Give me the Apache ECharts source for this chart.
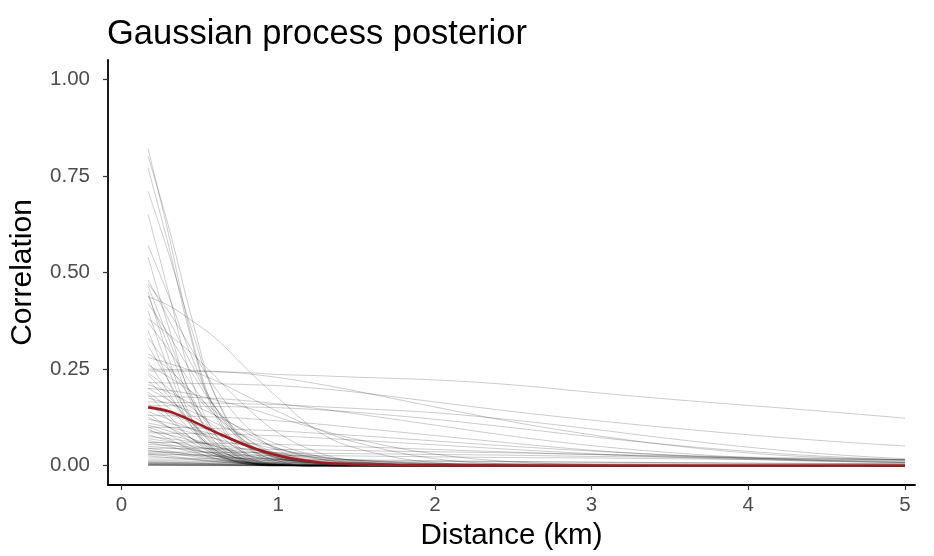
<!DOCTYPE html>
<html><head><meta charset="utf-8">
<script src="https://cdn.jsdelivr.net/npm/echarts@6/dist/echarts.min.js"></script>
<style>html,body{margin:0;padding:0;background:#fff}#c{width:934px;height:556px}</style>
</head><body><div id="c"></div>
<script>
// Distance grid (km) at which each posterior draw is read
const distances = [0.17, 0.3, 0.45, 0.6, 0.8, 1.0, 1.25, 1.5, 2.0, 2.5, 3.0, 3.5, 4.0, 4.5, 5.0];

// Posterior draws: high amplitude, short range
const steepDraws = [
  [0.82,0.60,0.33,0.14,0.03,0.004,0,0,0,0,0,0,0,0,0],
  [0.80,0.62,0.38,0.18,0.05,0.008,0.001,0,0,0,0,0,0,0,0],
  [0.77,0.57,0.32,0.13,0.025,0.003,0,0,0,0,0,0,0,0,0],
  [0.71,0.55,0.35,0.18,0.055,0.012,0.001,0,0,0,0,0,0,0,0],
  [0.65,0.45,0.22,0.08,0.012,0.001,0,0,0,0,0,0,0,0,0],
  [0.57,0.44,0.28,0.15,0.05,0.012,0.002,0,0,0,0,0,0,0,0],
  [0.54,0.36,0.17,0.06,0.01,0.001,0,0,0,0,0,0,0,0,0],
  [0.48,0.38,0.26,0.15,0.06,0.018,0.003,0,0,0,0,0,0,0,0],
  [0.47,0.40,0.30,0.20,0.10,0.04,0.01,0.002,0,0,0,0,0,0,0],
  [0.465,0.33,0.18,0.08,0.02,0.003,0,0,0,0,0,0,0,0,0],
  [0.45,0.28,0.12,0.04,0.005,0,0,0,0,0,0,0,0,0,0],
  [0.44,0.31,0.16,0.07,0.015,0.002,0,0,0,0,0,0,0,0,0],
  [0.42,0.34,0.24,0.15,0.07,0.025,0.006,0.001,0,0,0,0,0,0,0],
  [0.40,0.25,0.11,0.035,0.005,0,0,0,0,0,0,0,0,0,0],
  [0.37,0.30,0.21,0.13,0.06,0.02,0.005,0.001,0,0,0,0,0,0,0],
  [0.35,0.22,0.10,0.03,0.004,0,0,0,0,0,0,0,0,0,0]
];

// Posterior draws: moderate amplitude, short range
const midDraws = [
  [0.33,0.26,0.17,0.09,0.03,0.007,0.001,0,0,0,0,0,0,0,0],
  [0.31,0.22,0.12,0.05,0.01,0.001,0,0,0,0,0,0,0,0,0],
  [0.29,0.25,0.19,0.13,0.07,0.03,0.009,0.002,0,0,0,0,0,0,0],
  [0.27,0.19,0.10,0.04,0.008,0.001,0,0,0,0,0,0,0,0,0],
  [0.26,0.23,0.19,0.14,0.085,0.045,0.018,0.006,0,0,0,0,0,0,0],
  [0.24,0.20,0.15,0.10,0.05,0.02,0.005,0.001,0,0,0,0,0,0,0],
  [0.235,0.18,0.11,0.055,0.015,0.003,0,0,0,0,0,0,0,0,0],
  [0.22,0.17,0.11,0.06,0.02,0.005,0.001,0,0,0,0,0,0,0,0],
  [0.21,0.19,0.16,0.13,0.09,0.055,0.025,0.01,0.001,0,0,0,0,0,0],
  [0.20,0.17,0.13,0.09,0.05,0.022,0.007,0.002,0,0,0,0,0,0,0],
  [0.19,0.15,0.09,0.045,0.012,0.002,0,0,0,0,0,0,0,0,0],
  [0.185,0.13,0.07,0.03,0.006,0.001,0,0,0,0,0,0,0,0,0],
  [0.175,0.16,0.14,0.11,0.075,0.045,0.02,0.008,0.001,0,0,0,0,0,0],
  [0.16,0.12,0.07,0.035,0.01,0.002,0,0,0,0,0,0,0,0,0],
  [0.15,0.135,0.11,0.085,0.055,0.03,0.013,0.005,0,0,0,0,0,0,0],
  [0.14,0.12,0.095,0.07,0.04,0.02,0.008,0.003,0,0,0,0,0,0,0],
  [0.135,0.10,0.06,0.03,0.008,0.001,0,0,0,0,0,0,0,0,0],
  [0.125,0.10,0.07,0.04,0.015,0.004,0.001,0,0,0,0,0,0,0,0],
  [0.12,0.11,0.095,0.08,0.06,0.042,0.025,0.014,0.003,0,0,0,0,0,0],
  [0.11,0.10,0.085,0.07,0.05,0.032,0.017,0.008,0.001,0,0,0,0,0,0],
  [0.105,0.09,0.07,0.05,0.027,0.012,0.004,0.001,0,0,0,0,0,0,0],
  [0.10,0.08,0.05,0.025,0.008,0.002,0,0,0,0,0,0,0,0,0],
  [0.095,0.07,0.04,0.018,0.004,0,0,0,0,0,0,0,0,0,0],
  [0.09,0.08,0.065,0.05,0.032,0.018,0.008,0.003,0,0,0,0,0,0,0],
  [0.08,0.065,0.045,0.025,0.01,0.003,0.001,0,0,0,0,0,0,0,0],
  [0.075,0.07,0.062,0.054,0.043,0.033,0.022,0.014,0.005,0.001,0,0,0,0,0],
  [0.07,0.062,0.052,0.04,0.027,0.016,0.008,0.003,0.001,0,0,0,0,0,0],
  [0.065,0.055,0.042,0.03,0.016,0.007,0.002,0,0,0,0,0,0,0,0],
  [0.06,0.05,0.035,0.02,0.008,0.002,0,0,0,0,0,0,0,0,0],
  [0.055,0.052,0.048,0.043,0.036,0.029,0.021,0.015,0.006,0.002,0,0,0,0,0],
  [0.05,0.046,0.04,0.033,0.024,0.016,0.009,0.004,0.001,0,0,0,0,0,0],
  [0.045,0.038,0.028,0.018,0.008,0.003,0.001,0,0,0,0,0,0,0,0],
  [0.04,0.033,0.024,0.015,0.007,0.002,0,0,0,0,0,0,0,0,0],
  [0.038,0.035,0.03,0.025,0.018,0.012,0.007,0.003,0.001,0,0,0,0,0,0],
  [0.032,0.03,0.027,0.024,0.02,0.016,0.011,0.008,0.003,0.001,0,0,0,0,0],
  [0.03,0.025,0.018,0.011,0.005,0.002,0,0,0,0,0,0,0,0,0],
  [0.025,0.021,0.016,0.01,0.005,0.002,0,0,0,0,0,0,0,0,0]
];

// Posterior draws: broad bell shapes
const broadDraws = [
  [0.437,0.415,0.375,0.33,0.25,0.175,0.09,0.045,0.008,0.001,0,0,0,0,0],
  [0.38,0.34,0.29,0.23,0.15,0.085,0.035,0.012,0.001,0,0,0,0,0,0],
  [0.28,0.265,0.245,0.22,0.18,0.14,0.095,0.06,0.018,0.004,0.001,0,0,0,0],
  [0.20,0.195,0.185,0.17,0.15,0.125,0.095,0.068,0.03,0.01,0.003,0.001,0,0,0]
];

// Posterior draws: low amplitude, long range
const flatDraws = [
  [0.245,0.245,0.244,0.243,0.241,0.236,0.233,0.229,0.222,0.209,0.19,0.172,0.156,0.14,0.123],
  [0.25,0.249,0.247,0.244,0.238,0.228,0.212,0.193,0.152,0.113,0.08,0.053,0.033,0.021,0.015],
  [0.215,0.214,0.213,0.212,0.21,0.207,0.2,0.19,0.165,0.14,0.118,0.098,0.08,0.064,0.051],
  [0.18,0.179,0.177,0.174,0.168,0.16,0.148,0.134,0.105,0.076,0.052,0.034,0.021,0.013,0.008],
  [0.165,0.164,0.163,0.162,0.16,0.158,0.153,0.148,0.137,0.118,0.095,0.07,0.048,0.03,0.018],
  [0.155,0.155,0.154,0.153,0.152,0.15,0.145,0.138,0.12,0.098,0.075,0.054,0.037,0.024,0.015],
  [0.13,0.129,0.128,0.126,0.122,0.116,0.108,0.098,0.078,0.058,0.04,0.027,0.018,0.012,0.008],
  [0.10,0.099,0.098,0.096,0.093,0.09,0.084,0.078,0.064,0.05,0.038,0.028,0.02,0.014,0.01],
  [0.085,0.084,0.083,0.082,0.08,0.077,0.072,0.066,0.054,0.042,0.031,0.022,0.016,0.011,0.008],
  [0.06,0.06,0.059,0.058,0.057,0.055,0.052,0.049,0.042,0.035,0.029,0.024,0.02,0.017,0.015],
  [0.045,0.045,0.044,0.044,0.043,0.042,0.041,0.039,0.036,0.033,0.029,0.026,0.022,0.019,0.016],
  [0.035,0.035,0.035,0.034,0.034,0.033,0.032,0.031,0.029,0.027,0.024,0.022,0.019,0.017,0.014],
  [0.028,0.028,0.028,0.027,0.027,0.026,0.026,0.025,0.023,0.021,0.02,0.018,0.016,0.014,0.012]
];

// Posterior draws: near zero everywhere
const lowDraws = [
  [0.02,0.02,0.019,0.019,0.018,0.017,0.016,0.015,0.013,0.011,0.009,0.008,0.006,0.005,0.004],
  [0.015,0.015,0.015,0.014,0.014,0.013,0.013,0.012,0.011,0.01,0.009,0.008,0.007,0.006,0.005],
  [0.012,0.012,0.011,0.011,0.01,0.009,0.008,0.007,0.006,0.004,0.003,0.003,0.002,0.002,0.002],
  [0.01,0.009,0.007,0.005,0.003,0.001,0,0,0,0,0,0,0,0,0],
  [0.008,0.008,0.008,0.008,0.008,0.007,0.007,0.007,0.006,0.006,0.005,0.005,0.004,0.004,0.004],
  [0.007,0.006,0.005,0.004,0.002,0.001,0,0,0,0,0,0,0,0,0],
  [0.006,0.006,0.006,0.005,0.005,0.005,0.004,0.004,0.003,0.002,0.002,0.001,0.001,0.001,0.001],
  [0.005,0.004,0.003,0.002,0.001,0,0,0,0,0,0,0,0,0,0],
  [0.004,0.004,0.004,0.004,0.004,0.004,0.003,0.003,0.003,0.003,0.002,0.002,0.002,0.002,0.002],
  [0.003,0.003,0.002,0.002,0.001,0.001,0,0,0,0,0,0,0,0,0],
  [0.002,0.002,0.002,0.002,0.002,0.002,0.002,0.002,0.001,0.001,0.001,0.001,0.001,0.001,0.001],
  [0.002,0.001,0.001,0.001,0,0,0,0,0,0,0,0,0,0,0],
  [0.001,0.001,0.001,0.001,0.001,0.001,0.001,0.001,0.001,0.001,0.001,0.001,0.001,0.001,0.001],
  [0.001,0.001,0,0,0,0,0,0,0,0,0,0,0,0,0]
];

// Posterior mean correlation
const meanCorrelation = [0.151,0.141,0.116,0.087,0.052,0.026,0.009,0.003,0.0005,0,0,0,0,0,0];

const xTicks = [0, 1, 2, 3, 4, 5];
const yTicks = [0, 0.25, 0.5, 0.75, 1];

const FONT = '"Liberation Sans", Arial, Helvetica, sans-serif';
const toPairs = vals => distances.map((d, i) => [d, vals[i]]);

const allDraws = [].concat(steepDraws, midDraws, broadDraws, flatDraws, lowDraws);
const series = allDraws.map(v => ({
  type: 'line', data: toPairs(v), symbol: 'none', smooth: 0.4,
  silent: true, lineStyle: { color: 'rgba(0,0,0,0.25)', width: 0.8 }, z: 2
}));
series.push({
  type: 'line', data: toPairs(meanCorrelation), symbol: 'none', smooth: 0.4,
  silent: true, lineStyle: { color: '#a01c20', width: 2.6 }, z: 5
});

const chart = echarts.init(document.getElementById('c'), null, { renderer: 'canvas' });
chart.setOption({
  animation: false,
  backgroundColor: '#ffffff',
  title: {
    text: 'Gaussian process posterior', left: 102, top: 12,
    textStyle: { fontFamily: FONT, fontSize: 34.5, fontWeight: 'normal', color: '#000' }
  },
  grid: { left: 106, right: 19, top: 60, bottom: 66 },
  xAxis: {
    type: 'value', min: -0.086, max: 5.064,
    name: 'Distance (km)', nameLocation: 'middle', nameGap: 36,
    nameTextStyle: { fontFamily: FONT, fontSize: 29.5, color: '#000' },
    axisLine: { show: true, onZero: false, lineStyle: { color: '#000', width: 1.8 } },
    axisTick: { show: true, length: 5, customValues: xTicks, lineStyle: { color: '#333', width: 1.2 } },
    axisLabel: { customValues: xTicks, color: '#4d4d4d', fontFamily: FONT, fontSize: 20.5, margin: 10 },
    splitLine: { show: false }
  },
  yAxis: {
    type: 'value', min: -0.05, max: 1.05,
    name: 'Correlation', nameLocation: 'middle', nameGap: 70, nameRotate: 90,
    nameTextStyle: { fontFamily: FONT, fontSize: 30, color: '#000' },
    axisLine: { show: true, onZero: false, lineStyle: { color: '#000', width: 1.8 } },
    axisTick: { show: true, length: 5, customValues: yTicks, lineStyle: { color: '#333', width: 1.2 } },
    axisLabel: { customValues: yTicks, color: '#4d4d4d', fontFamily: FONT, fontSize: 20.5, margin: 18,
      formatter: v => v.toFixed(2) },
    splitLine: { show: false }
  },
  series: series
});
</script></body></html>
